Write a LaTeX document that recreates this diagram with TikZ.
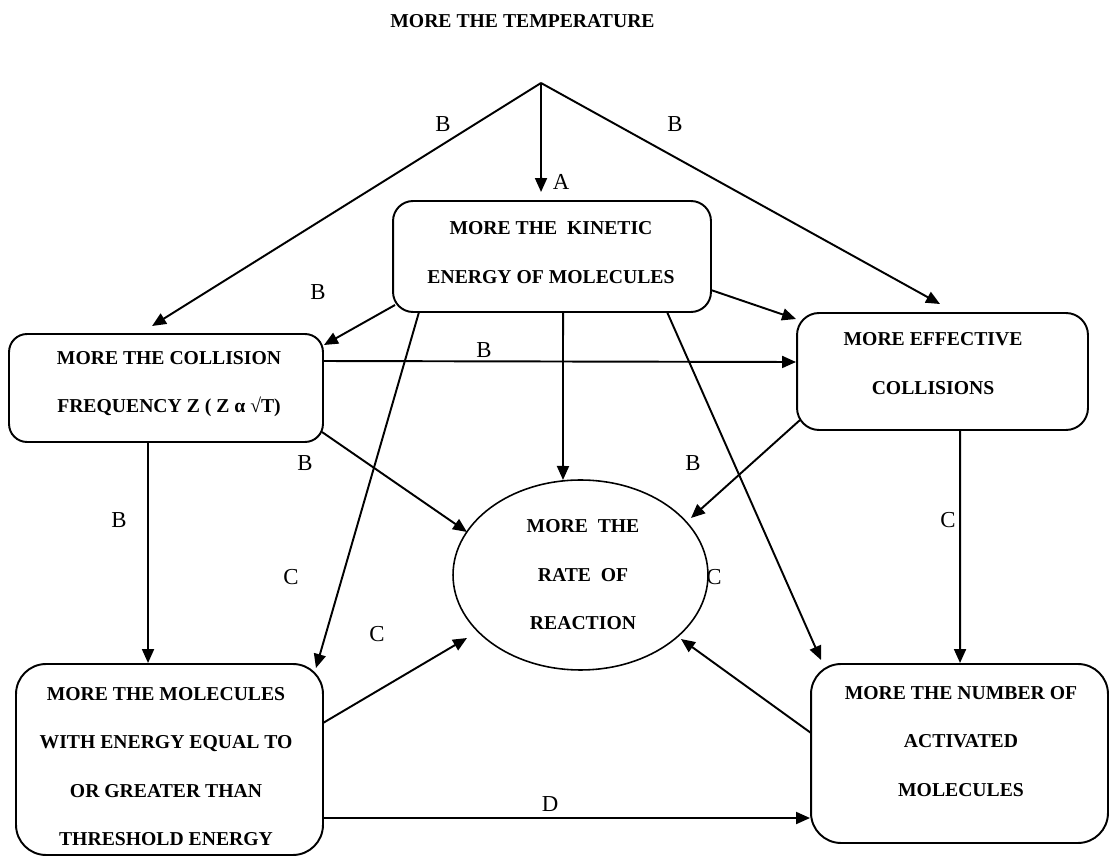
\documentclass[tikz,border=0pt]{standalone}
\usepackage{fontspec}
\setmainfont{Liberation Serif}
\usetikzlibrary{arrows.meta,calc,shapes.geometric}
\begin{document}
\begin{tikzpicture}[x=0.02cm,y=-0.02cm,
  box/.style={draw,line width=1.1pt,rounded corners=#1,inner sep=0pt,outer sep=0pt},
  boxtext/.style={font=\bfseries\fontsize{11.2}{27.6}\selectfont,align=center,inner sep=0pt},
  lbl/.style={font=\fontsize{13}{15}\selectfont,inner sep=0pt},
  arr/.style={line width=1.1pt,-{Triangle[length=2.8mm,width=2.4mm]}}]
\useasboundingbox (0,0) rectangle (1109,857);

% title and apex
\node[boxtext] (title) at (522.5,21.5) {MORE THE TEMPERATURE};
\coordinate (apex) at (541,83);

% boxes
\node[box=0.4cm,minimum width=6.36cm,minimum height=2.22cm] (kin) at (552,256.5) {};
\node[box=0.36cm,minimum width=6.28cm,minimum height=2.16cm] (col) at (166,388) {};
\node[box=0.44cm,minimum width=5.82cm,minimum height=2.34cm] (eff) at (942.5,371.5) {};
\node[box=0.6cm,minimum width=6.14cm,minimum height=3.82cm] (mol) at (169.5,759.5) {};
\node[box=0.6cm,minimum width=5.94cm,minimum height=3.58cm] (act) at (959.5,753.5) {};
\node[draw,ellipse,line width=0.9pt,inner sep=0pt,outer sep=0pt,minimum width=5.1cm,minimum height=3.8cm] (rate) at (580.5,575) {};

% box texts
\node[boxtext] (kinT) at (551,252.5) {MORE THE\ \ KINETIC\\ENERGY OF MOLECULES};
\node[boxtext] (colT) at (169,384) {MORE THE COLLISION\\FREQUENCY Z ( Z α √T)};
\node[boxtext] (effT) at (933,363.5) {MORE EFFECTIVE\\COLLISIONS};
\node[boxtext] (molT) at (166,766.5) {MORE THE MOLECULES\\WITH ENERGY EQUAL TO\\OR GREATER THAN\\THRESHOLD ENERGY};
\node[boxtext] (actT) at (961,741.5) {MORE THE NUMBER OF\\ACTIVATED\\MOLECULES};
\node[boxtext] (rateT) at (583,575) {MORE\ \ THE\\RATE\ \ OF\\REACTION};

% connectors
\draw[arr] (apex) -- ($(col.north west)+(143,-8)$);
\draw[arr] (apex) -- ($(eff.north west)+(143,-9)$);
\draw[arr] (apex) -- ($(kin.north west)+(148,-9)$);
\draw[arr] ($(kin.south west)+(2,-7)$) -- ($(col.north east)+(1,11)$);
\draw[arr] ($(kin.north east)+(0,89)$) -- ($(eff.north west)+(-1,6)$);
\draw[arr] ($(col.north east)+(0,27)$) -- ($(eff.north west)+(-1,49)$);
\draw[arr] ($(col.south east)+(-1,-10)$) -- ($(rate.center)+(-113.5,-43)$);
\draw[arr] ($(kin.south west)+(170,0)$) -- ($(rate.center)+(-17.5,-95)$);
\draw[arr] ($(eff.south west)+(3,-10)$) -- ($(rate.center)+(110.5,-57)$);
\draw[arr] ($(col.south west)+(139,0)$) -- ($(mol.north west)+(132,-1)$);
\draw[arr] ($(kin.south west)+(26,0)$) -- ($(mol.north east)+(-7,4)$);
\draw[arr] ($(kin.south west)+(274,0)$) -- ($(act.north west)+(10,-4)$);
\draw[arr] ($(eff.south west)+(163,0)$) -- ($(act.north west)+(149,-1)$);
\draw[arr] ($(mol.north east)+(0,59)$) -- ($(rate.center)+(-113.5,63)$);
\draw[arr] ($(act.north west)+(0,69)$) -- ($(rate.center)+(100.5,64)$);
\draw[arr] ($(mol.north east)+(0,154)$) -- ($(act.north west)+(-1,154)$);

% labels
\node[lbl] (lA) at (561,182) {A};
\node[lbl] (lB1) at (443,124) {B};
\node[lbl] (lB2) at (675,124) {B};
\node[lbl] (lB3) at (318,292) {B};
\node[lbl] (lB4) at (484,350) {B};
\node[lbl] (lB5) at (305,463) {B};
\node[lbl] (lB6) at (693,463) {B};
\node[lbl] (lB7) at (119,520) {B};
\node[lbl] (lC1) at (291,577) {C};
\node[lbl] (lC2) at (377,634) {C};
\node[lbl] (lC3) at (714,577) {C};
\node[lbl] (lC4) at (948,520) {C};
\node[lbl] (lD) at (550,804) {D};
\end{tikzpicture}
\end{document}
